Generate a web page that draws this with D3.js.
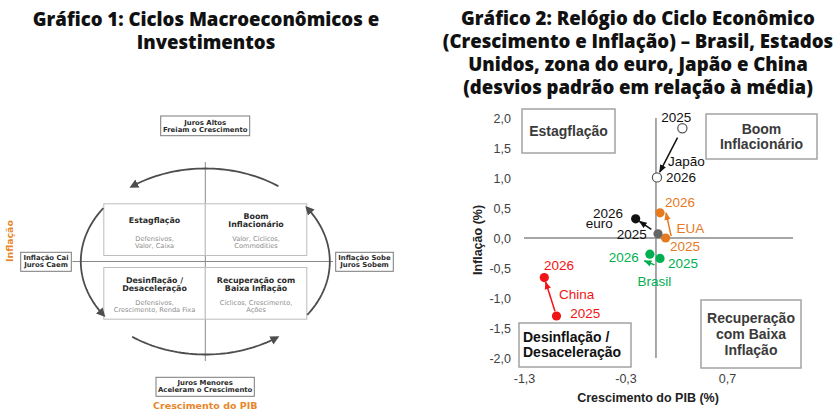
<!DOCTYPE html>
<html>
<head>
<meta charset="utf-8">
<script src="https://cdn.jsdelivr.net/npm/d3@7"></script>
<style>
  body { margin: 0; background: #fff; }
  svg { display: block; }
  .titulo { font-family: "Open Sans", sans-serif; font-weight: 800; font-size: 18.6px; fill: #111; }
  .dv { font-family: "DejaVu Sans", sans-serif; }
  .ar { font-family: "Liberation Sans", Arial, sans-serif; }
</style>
</head>
<body>
<svg id="chart" width="840" height="420"></svg>
<script>
// ---- dados ----
const paises = ["Japão", "EUA", "euro", "Brasil", "China"];
const pib2025 = [0.26, 0.095, 0.02, 0.04, -0.98];
const inf2025 = [1.83, 0.0, 0.07, -0.34, -1.30];
const pib2026 = [0.01, 0.04, -0.20, -0.06, -1.10];
const inf2026 = [1.01, 0.42, 0.32, -0.27, -0.66];

const xTicks = [-1.3, -0.3, 0.7];
const yTicks = [2, 1.5, 1, 0.5, 0, -0.5, -1, -1.5, -2];

const titulo1 = ["Gráfico 1: Ciclos Macroeconômicos e", "Investimentos"];
const titulo2 = ["Gráfico 2: Relógio do Ciclo Econômico", "(Crescimento e Inflação) – Brasil, Estados",
                 "Unidos, zona do euro, Japão e China", "(desvios padrão em relação à média)"];

const quadrantes = [
  { q: [-1, 1], nome: ["Estagflação"], ativos: ["Defensivos,", "Valor, Caixa"] },
  { q: [1, 1], nome: ["Boom", "Inflacionário"], ativos: ["Valor, Cíclicos,", "Commodities"] },
  { q: [-1, -1], nome: ["Desinflação /", "Desaceleração"], ativos: ["Defensivos,", "Crescimento, Renda Fixa"] },
  { q: [1, -1], nome: ["Recuperação com", "Baixa Inflação"], ativos: ["Cíclicos, Crescimento,", "Ações"] }
];
const extremos = [
  { lado: "topo", txt: ["Juros Altos", "Freiam o Crescimento"] },
  { lado: "esq", txt: ["Inflação Cai", "Juros Caem"] },
  { lado: "dir", txt: ["Inflação Sobe", "Juros Sobem"] },
  { lado: "base", txt: ["Juros Menores", "Aceleram o Crescimento"] }
];
const regimes = [
  { nome: ["Estagflação"], canto: "tl" },
  { nome: ["Boom", "Inflacionário"], canto: "tr" },
  { nome: ["Desinflação /", "Desaceleração"], canto: "bl" },
  { nome: ["Recuperação", "com Baixa", "Inflação"], canto: "br" }
];

const svg = d3.select("#chart");

// ---- títulos ----
function titulo(linhas, cx, y0) {
  svg.append("g").selectAll("text").data(linhas).join("text")
    .attr("class", "titulo")
    .attr("x", cx).attr("y", (d, i) => y0 + i * 23)
    .attr("text-anchor", "middle")
    .text(d => d);
}
titulo(titulo1, 206, 26);
titulo(titulo2, 638, 25);

// =========== Gráfico 1: diagrama ===========
const g1 = svg.append("g");
const cx = 205.3, cy = 261.5;
const rx = 124.5, ry = 93;

const gris = "#8a8a8a";
g1.append("line").attr("x1", cx).attr("x2", cx).attr("y1", 162).attr("y2", 361)
  .attr("stroke", gris).attr("stroke-width", 1);
g1.append("line").attr("x1", 72.5).attr("x2", 333).attr("y1", cy).attr("y2", cy)
  .attr("stroke", gris).attr("stroke-width", 1);

// quadrantes
const bw = 101.5, bh = 51.7, gap = 6;
const qg = g1.selectAll("g.quad").data(quadrantes).join("g")
  .attr("class", "quad")
  .attr("transform", d => {
    const x0 = d.q[0] < 0 ? cx - bw : cx;
    const y0 = d.q[1] > 0 ? cy - gap - bh : cy + gap;
    return `translate(${x0},${y0})`;
  });
qg.append("rect").attr("width", bw).attr("height", bh)
  .attr("fill", "#fff").attr("stroke", "#bdbdbd").attr("stroke-width", 1);
qg.each(function(d) {
  const g = d3.select(this);
  const ys = d.nome.length === 1 ? [19] : [15.3, 23.6];
  g.selectAll("text.nome").data(d.nome).join("text")
    .attr("class", "nome dv")
    .attr("x", bw / 2).attr("y", (t, i) => ys[i])
    .attr("text-anchor", "middle")
    .style("font-size", "7.9px").style("font-weight", "bold").style("fill", "#2b2b2b")
    .text(t => t);
  g.selectAll("text.ativo").data(d.ativos).join("text")
    .attr("class", "ativo dv")
    .attr("x", bw / 2).attr("y", (t, i) => 37 + i * 7)
    .attr("text-anchor", "middle")
    .style("font-size", "6.6px").style("fill", "#8c8c8c")
    .text(t => t);
});

// setas do ciclo (elipse)
const defs = svg.append("defs");
defs.append("marker").attr("id", "cab").attr("viewBox", "0 -5 10 10")
  .attr("refX", 6).attr("refY", 0).attr("markerWidth", 10).attr("markerHeight", 10)
  .attr("markerUnits", "userSpaceOnUse").attr("orient", "auto")
  .append("path").attr("d", "M0,-4.5L9,0L0,4.5Z").attr("fill", "#4d4d4d");

const arcos = [[54, 126], [145, 215], [234, 305], [325, 395]];
const linhaArco = d3.line();
g1.selectAll("path.arco").data(arcos).join("path")
  .attr("class", "arco")
  .attr("d", a => {
    const pts = d3.range(0, 41).map(i => {
      const t = (a[0] + (a[1] - a[0]) * i / 40) * Math.PI / 180;
      return [cx + rx * Math.cos(t), cy - ry * Math.sin(t)];
    });
    return linhaArco(pts);
  })
  .attr("fill", "none").attr("stroke", "#4d4d4d").attr("stroke-width", 1.8)
  .attr("marker-end", "url(#cab)");

// caixas dos extremos
const posExt = {
  topo: [160.7, 116, 89, 19.7],
  esq: [20.7, 252.3, 50.6, 19],
  dir: [335.7, 252.3, 57.6, 19],
  base: [156, 377.3, 98.3, 19]
};
const eg = g1.selectAll("g.ext").data(extremos).join("g")
  .attr("class", "ext")
  .attr("transform", d => `translate(${posExt[d.lado][0]},${posExt[d.lado][1]})`);
eg.append("rect")
  .attr("width", d => posExt[d.lado][2]).attr("height", d => posExt[d.lado][3])
  .attr("fill", "#fff").attr("stroke", "#7a7a7a").attr("stroke-width", 1);
eg.each(function(d) {
  const w = posExt[d.lado][2], h = posExt[d.lado][3];
  d3.select(this).selectAll("text").data(d.txt).join("text")
    .attr("class", "dv")
    .attr("x", w / 2).attr("y", (t, i) => h / 2 - 1.3 + i * 7)
    .attr("text-anchor", "middle")
    .style("font-size", "6.9px").style("font-weight", "bold").style("fill", "#2b2b2b")
    .text(t => t);
});

const laranja1 = "#e8862a";
g1.append("text").attr("class", "dv")
  .attr("x", cx).attr("y", 408.5).attr("text-anchor", "middle")
  .style("font-size", "9.5px").style("font-weight", "bold").style("fill", laranja1)
  .text("Crescimento do PIB");
g1.append("text").attr("class", "dv")
  .attr("transform", "translate(12.5,241) rotate(-90)").attr("text-anchor", "middle")
  .style("font-size", "9.4px").style("font-weight", "bold").style("fill", laranja1)
  .text("Inflação");

// =========== Gráfico 2: relógio ===========
const g2 = svg.append("g");
const x = d3.scaleLinear().domain([-1.3, 1.35]).range([524, 793]);
const y = d3.scaleLinear().domain([-2, 2]).range([358, 118]);
const fmt = d3.formatLocale({ decimal: ",", thousands: ".", grouping: [3], currency: ["", ""], minus: "-" }).format(".1f");

// caixas dos regimes (atrás dos pontos)
const caixaReg = {
  tl: { r: [522, 109, 93, 44], anchor: "middle", ys: [136] },
  tr: { r: [706, 114, 111, 45], anchor: "middle", ys: [133.5, 148.8] },
  bl: { r: [519, 323, 112, 44], anchor: "start", ys: [341.7, 357.3] },
  br: { r: [701, 300, 100, 68], anchor: "middle", ys: [322.7, 338.7, 354.5] }
};
const rg = g2.selectAll("g.reg").data(regimes).join("g").attr("class", "reg");
rg.append("rect")
  .attr("x", d => caixaReg[d.canto].r[0]).attr("y", d => caixaReg[d.canto].r[1])
  .attr("width", d => caixaReg[d.canto].r[2]).attr("height", d => caixaReg[d.canto].r[3])
  .attr("fill", "#fff").attr("stroke", "#a3a3a3").attr("stroke-width", 1.5);
rg.each(function(d) {
  const c = caixaReg[d.canto];
  const tx = c.anchor === "start" ? c.r[0] + 4 : c.r[0] + c.r[2] / 2;
  d3.select(this).selectAll("text").data(d.nome).join("text")
    .attr("class", "ar")
    .attr("x", tx).attr("y", (t, i) => c.ys[i])
    .attr("text-anchor", c.anchor)
    .style("font-size", "14px").style("font-weight", "bold")
    .style("fill", d.canto === "bl" ? "#111" : "#3a3a3a")
    .text(t => t);
});

// eixos
g2.append("line").attr("x1", x(-1.3)).attr("x2", x(1.35)).attr("y1", y(0)).attr("y2", y(0))
  .attr("stroke", "#a6a6a6").attr("stroke-width", 2);
g2.append("line").attr("x1", x(0)).attr("x2", x(0)).attr("y1", y(2)).attr("y2", y(-2))
  .attr("stroke", "#8c8c8c").attr("stroke-width", 1.5);

const yAxis = g2.append("g").attr("transform", "translate(511,0)")
  .call(d3.axisLeft(y).tickValues(yTicks).tickSize(0).tickPadding(0).tickFormat(fmt));
const xAxis = g2.append("g").attr("transform", "translate(0,374)")
  .call(d3.axisBottom(x).tickValues(xTicks).tickSize(0).tickPadding(0).tickFormat(fmt));
[yAxis, xAxis].forEach(a => {
  a.select(".domain").remove();
  a.selectAll("text").attr("class", "ar").style("font-size", "12.5px").style("fill", "#404040");
});

g2.append("text").attr("class", "ar")
  .attr("x", 648).attr("y", 402).attr("text-anchor", "middle")
  .style("font-size", "12.5px").style("font-weight", "bold").style("fill", "#222")
  .text("Crescimento do PIB (%)");
g2.append("text").attr("class", "ar")
  .attr("transform", "translate(482,240) rotate(-90)").attr("text-anchor", "middle")
  .style("font-size", "12.5px").style("font-weight", "bold").style("fill", "#222")
  .text("Inflação (%)");

// estilo por país (cores, deslocamentos de rótulos e setas)
const estilo = {
  "Japão":  { cor: "#111", c25: "#fff", c26: "#fff", borda: "#555",
              seta: { off: [0, 0], s0: 10.5, s1: 6 },
              r25: [-6, -6, "middle"], r26: [9, 4.5, "start"], nome: [11, -11.5, "start", 1] },
  "EUA":    { cor: "#e67a1f", c25: "#e67a1f", c26: "#e67a1f",
              seta: { off: [6, 0], s0: 2, s1: 0 },
              r25: [4.3, 13.3, "start"], r26: [5, -5.5, "start"], nome: [11, -5.5, "start", 0] },
  "euro":   { cor: "#111", c25: "#666", c26: "#111",
              seta: { off: [0, 0], s0: 8, s1: 4.5 },
              r25: [-11.3, 5.3, "end"], r26: [-12.7, -0.7, "end"], nome: [-23, 9.3, "end", 1] },
  "Brasil": { cor: "#00b050", c25: "#00b050", c26: "#00b050",
              seta: { off: [-5.5, 6.5], s0: 0, s1: 0 },
              r25: [8, 9.6, "start"], r26: [-11, 7.7, "end"], nome: [-5.6, 28, "middle", 0] },
  "China":  { cor: "#f01414", c25: "#f01414", c26: "#f01414",
              seta: { off: [0, 0], s0: 5, s1: 4.6 },
              r25: [13.7, 2, "start"], r26: [-0.4, -7.7, "start"], nome: [32.3, 21.3, "middle", 1] }
};

const dados = paises.map((p, i) => ({
  pais: p, x25: x(pib2025[i]), y25: y(inf2025[i]), x26: x(pib2026[i]), y26: y(inf2026[i])
}));

// marcadores de seta por cor
dados.forEach((d, i) => {
  defs.append("marker").attr("id", "seta" + i).attr("viewBox", "0 -5 10 10")
    .attr("refX", 9).attr("refY", 0).attr("markerWidth", 8).attr("markerHeight", 8)
    .attr("markerUnits", "userSpaceOnUse").attr("orient", "auto")
    .append("path").attr("d", "M0,-4L10,0L0,4Z").attr("fill", estilo[d.pais].cor);
});

g2.selectAll("line.seta").data(dados).join("line")
  .attr("class", "seta")
  .each(function(d, i) {
    const s = estilo[d.pais].seta;
    const x0 = d.x25 + s.off[0], y0 = d.y25 + s.off[1];
    const x1 = d.x26 + s.off[0], y1 = d.y26 + s.off[1];
    const L = Math.hypot(x1 - x0, y1 - y0), ux = (x1 - x0) / L, uy = (y1 - y0) / L;
    d3.select(this)
      .attr("x1", x0 + ux * s.s0).attr("y1", y0 + uy * s.s0)
      .attr("x2", x1 - ux * s.s1).attr("y2", y1 - uy * s.s1)
      .attr("stroke", estilo[d.pais].cor).attr("stroke-width", 1.5)
      .attr("marker-end", `url(#seta${i})`);
  });

// pontos
const pts = [];
dados.forEach(d => {
  pts.push({ pais: d.pais, ano: 2025, cx: d.x25, cy: d.y25 });
  pts.push({ pais: d.pais, ano: 2026, cx: d.x26, cy: d.y26 });
});
g2.selectAll("circle.pt").data(pts).join("circle")
  .attr("class", "pt")
  .attr("cx", d => d.cx).attr("cy", d => d.cy).attr("r", 4.6)
  .attr("fill", d => d.ano === 2025 ? estilo[d.pais].c25 : estilo[d.pais].c26)
  .attr("stroke", d => estilo[d.pais].borda || "none")
  .attr("stroke-width", 1.2);

// rótulos de ano
g2.selectAll("text.ano").data(pts).join("text")
  .attr("class", "ano ar")
  .attr("x", d => d.cx + estilo[d.pais][d.ano === 2025 ? "r25" : "r26"][0])
  .attr("y", d => d.cy + estilo[d.pais][d.ano === 2025 ? "r25" : "r26"][1])
  .attr("text-anchor", d => estilo[d.pais][d.ano === 2025 ? "r25" : "r26"][2])
  .style("font-size", "13.5px").style("fill", d => estilo[d.pais].cor)
  .text(d => d.ano);

// nomes dos países (relativos ao ponto de 2025 ou 2026)
g2.selectAll("text.pais").data(dados).join("text")
  .attr("class", "pais ar")
  .attr("x", d => { const n = estilo[d.pais].nome; return (n[3] ? d.x26 : d.x25) + n[0]; })
  .attr("y", d => { const n = estilo[d.pais].nome; return (n[3] ? d.y26 : d.y25) + n[1]; })
  .attr("text-anchor", d => estilo[d.pais].nome[2])
  .style("font-size", "13.5px").style("fill", d => estilo[d.pais].cor)
  .text(d => d.pais);
</script>
</body>
</html>
